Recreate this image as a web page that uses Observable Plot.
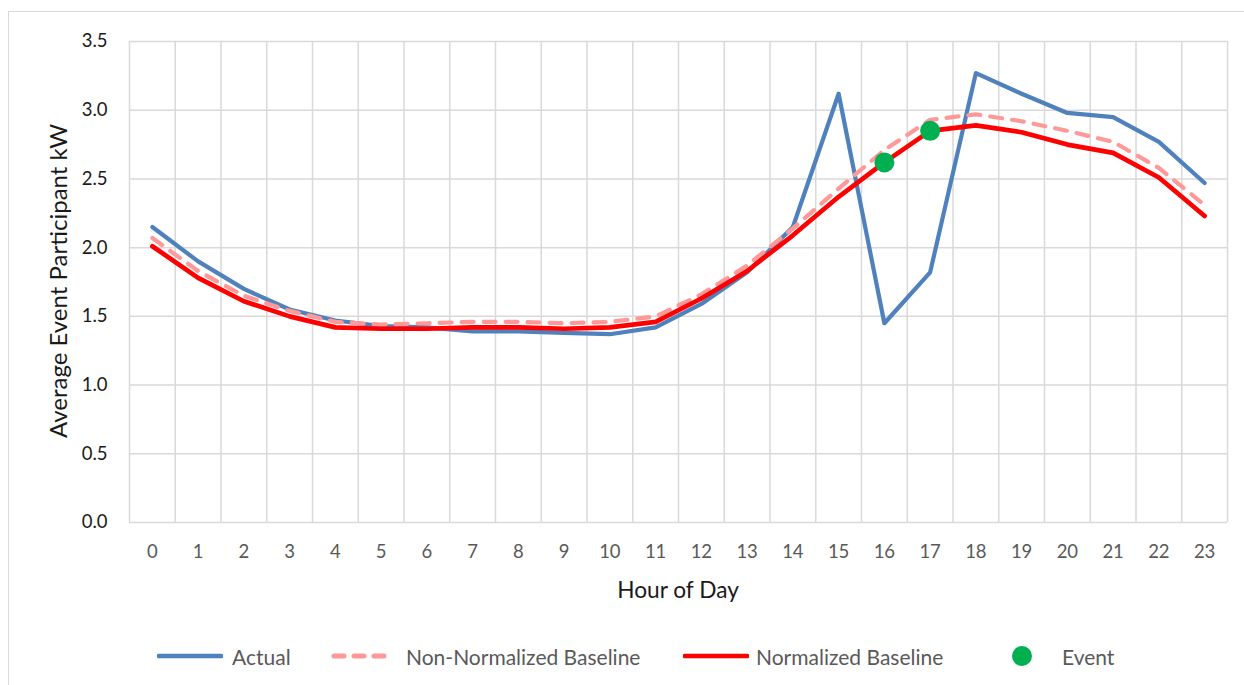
<!DOCTYPE html>
<html><head><meta charset="utf-8">
<script src="https://cdn.jsdelivr.net/npm/d3@7"></script>
<script src="https://cdn.jsdelivr.net/npm/@observablehq/plot@0.6"></script>
<style>
body{margin:0;background:#fff;font-family:Lato,"Open Sans",sans-serif;}
#wrap{position:relative;width:1244px;height:685px;overflow:hidden;background:#fff;}
#frame{position:absolute;left:8px;top:11px;width:1260px;height:700px;border:1.5px solid #d9d9d9;box-sizing:border-box;}
#chart{position:absolute;left:0;top:0;}
[aria-label^="x-axis"] text{fill:#595959;}
[aria-label^="y-axis"] text{fill:#1a1a1a;}
.ttl{position:absolute;color:#1a1a1a;white-space:nowrap;}
#xt{left:678px;top:589px;font-size:22.7px;transform:translate(-50%,-50%);}
#yt{left:57px;top:281px;font-size:24px;transform:translate(-50%,-50%) rotate(-90deg);}
.lg{position:absolute;top:656px;transform:translateY(-50%);font-size:21px;color:#595959;white-space:nowrap;display:flex;align-items:center;}
.lg svg{display:block;}
</style></head>
<body>
<div id="wrap">
  <div id="frame"></div>
  <div id="chart"></div>
  <div class="ttl" id="xt">Hour of Day</div>
  <div class="ttl" id="yt">Average Event Participant kW</div>
  <div id="legend"></div>
</div>
<script>
const hours = [0,1,2,3,4,5,6,7,8,9,10,11,12,13,14,15,16,17,18,19,20,21,22,23];
const actual = [2.15,1.90,1.70,1.55,1.47,1.43,1.42,1.39,1.39,1.38,1.37,1.42,1.59,1.82,2.15,3.12,1.45,1.82,3.27,3.12,2.98,2.95,2.77,2.47];
const nonNormalized = [2.07,1.83,1.65,1.54,1.46,1.44,1.45,1.46,1.46,1.45,1.46,1.50,1.66,1.87,2.14,2.43,2.71,2.93,2.97,2.92,2.85,2.77,2.58,2.31];
const normalized = [2.01,1.78,1.61,1.50,1.42,1.41,1.41,1.42,1.42,1.41,1.42,1.46,1.63,1.83,2.09,2.37,2.62,2.85,2.89,2.84,2.75,2.69,2.51,2.23];
const eventHours = [16,17];
const eventValues = [2.62,2.85];
const yTicks = [0,0.5,1,1.5,2,2.5,3,3.5];
const seriesNames = ["Actual","Non-Normalized Baseline","Normalized Baseline","Event"];
const colors = {actual:"#4f81bd", nonNorm:"#ff9999", norm:"#ff0000", event:"#00b050"};

const rows = (vals) => hours.map((h,i)=>({hour:h, value:vals[i]}));
const events = eventHours.map((h,i)=>({hour:h, value:eventValues[i]}));
const boundaries = hours.map(h=>h-0.5).concat([hours[hours.length-1]+0.5]);

const chart = Plot.plot({
  width:1244, height:685,
  marginLeft:129, marginRight:17, marginTop:41, marginBottom:163,
  style:{fontFamily:"Lato, 'Open Sans', sans-serif", fontSize:"18.5px", background:"transparent", overflow:"visible"},
  x:{domain:[hours[0]-0.5, hours[hours.length-1]+0.5], ticks:hours, tickFormat:d=>String(d), tickSize:0, tickPadding:22, label:null},
  y:{domain:[0,3.5], ticks:yTicks, tickFormat:d=>d.toFixed(1), tickSize:0, tickPadding:22, label:null},
  marks:[
    Plot.ruleY(yTicks, {stroke:"#d9d9d9", strokeWidth:1.5}),
    Plot.ruleX(boundaries, {stroke:"#d9d9d9", strokeWidth:1.5}),
    Plot.line(rows(actual), {x:"hour", y:"value", stroke:colors.actual, strokeWidth:4.2, strokeLinejoin:"round", strokeLinecap:"round"}),
    Plot.line(rows(nonNormalized), {x:"hour", y:"value", stroke:colors.nonNorm, strokeWidth:4.2, strokeDasharray:"12,10", strokeLinecap:"round", strokeLinejoin:"round"}),
    Plot.line(rows(normalized), {x:"hour", y:"value", stroke:colors.norm, strokeWidth:4.7, strokeLinejoin:"round", strokeLinecap:"round"}),
    Plot.dot(events, {x:"hour", y:"value", r:10, fill:colors.event, stroke:null})
  ]
});
document.getElementById("chart").appendChild(chart);

// Legend
const legendItems = [
  {name:seriesNames[0], left:157, kind:"line", color:colors.actual, textLeft:232},
  {name:seriesNames[1], left:330, kind:"dash", color:colors.nonNorm, textLeft:406},
  {name:seriesNames[2], left:683, kind:"line", color:colors.norm, textLeft:756},
  {name:seriesNames[3], left:1010, kind:"dot", color:colors.event, textLeft:1062}
];
const lg = document.getElementById("legend");
legendItems.forEach(it=>{
  const sw = document.createElement("div");
  sw.className = "lg";
  sw.style.left = it.left + "px";
  let svg;
  if (it.kind==="line") svg = `<svg width="66" height="10"><line x1="2" y1="5" x2="64" y2="5" stroke="${it.color}" stroke-width="4.7" stroke-linecap="round"/></svg>`;
  else if (it.kind==="dash") svg = `<svg width="66" height="10"><line x1="4" y1="5" x2="64" y2="5" stroke="${it.color}" stroke-width="5" stroke-linecap="round" stroke-dasharray="10,10"/></svg>`;
  else svg = `<svg width="24" height="24"><circle cx="12" cy="12" r="10" fill="${it.color}"/></svg>`;
  sw.innerHTML = svg;
  lg.appendChild(sw);
  const tx = document.createElement("div");
  tx.className = "lg";
  tx.style.left = it.textLeft + "px";
  tx.textContent = it.name;
  lg.appendChild(tx);
});
</script>
</body></html>
